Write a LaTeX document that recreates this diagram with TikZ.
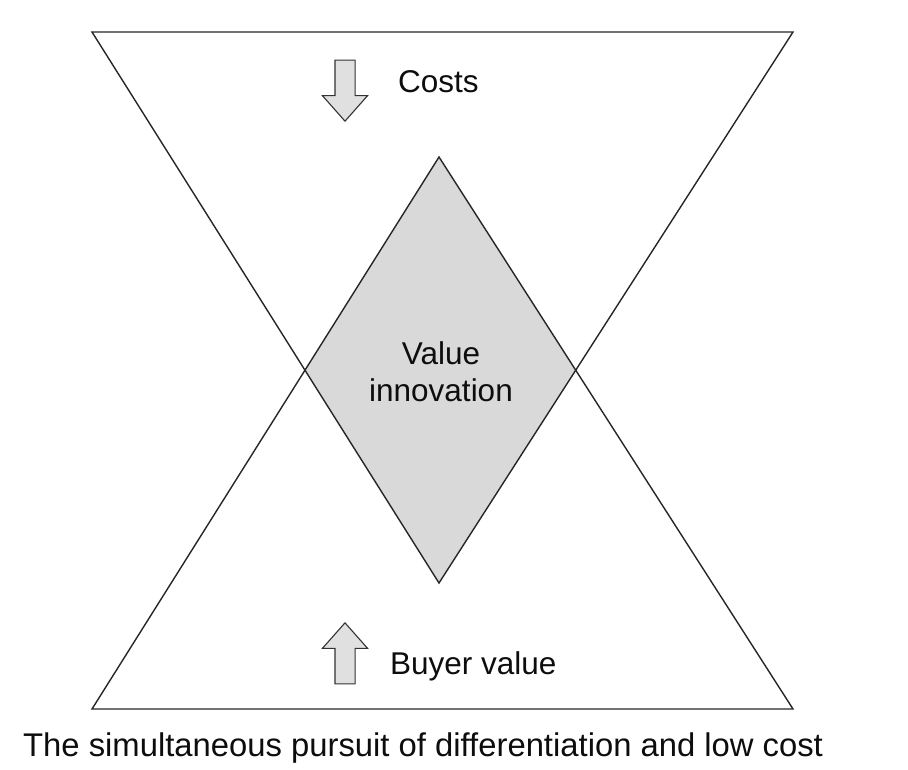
\documentclass[tikz,border=0pt]{standalone}
\usepackage{fontspec}
\setmainfont{Liberation Sans}
\usetikzlibrary{shapes.arrows,positioning}

\begin{document}
\begin{tikzpicture}
	[x=1pt,y=-1pt,
	 edge/.style={draw=black!85,line width=1.4pt,line join=miter},
	 txt/.style={text=black!95,font=\fontsize{31.5}{37}\selectfont,inner sep=0pt},
	 move/.style={draw=black!80,fill=black!12,line width=1.1pt,single arrow,single arrow head extend=12.5pt,single arrow tip angle=83,inner sep=0pt,inner ysep=9.5pt,minimum height=61pt}]

		\useasboundingbox (0,0) rectangle (908,770);

		% the two triangles
		\coordinate (tl) at (92,32);
		\coordinate (tr) at (793,32);
		\coordinate (tb) at (439,583);
		\coordinate (bl) at (92,709);
		\coordinate (br) at (793,709);
		\coordinate (bt) at (439,157);
		\coordinate (xl) at (intersection of tl--tb and bl--bt);
		\coordinate (xr) at (intersection of tr--tb and br--bt);

		\fill[black!15] (bt) -- (xl) -- (tb) -- (xr) -- cycle;
		\draw[edge] (tl) -- (tr) -- (tb) -- cycle;
		\draw[edge] (bl) -- (br) -- (bt) -- cycle;

		% arrows and labels
		\node[move,rotate=-90,anchor=tip] (down) at (345,122) {};
		\node[move,rotate=90,anchor=tip] (up) at (345,622) {};
		\node[txt,anchor=base west] (costs) at (398,93) {Costs};
		\node[txt,anchor=base west] (buyer) at (390,674) {Buyer value};
		\node[txt,align=center] (vi) at (441,372) {Value\\innovation};
		\node[txt,anchor=base west,font=\fontsize{32.8}{38}\selectfont] (caption) at (23,756) {The simultaneous pursuit of differentiation and low cost};

\end{tikzpicture}
\end{document}
